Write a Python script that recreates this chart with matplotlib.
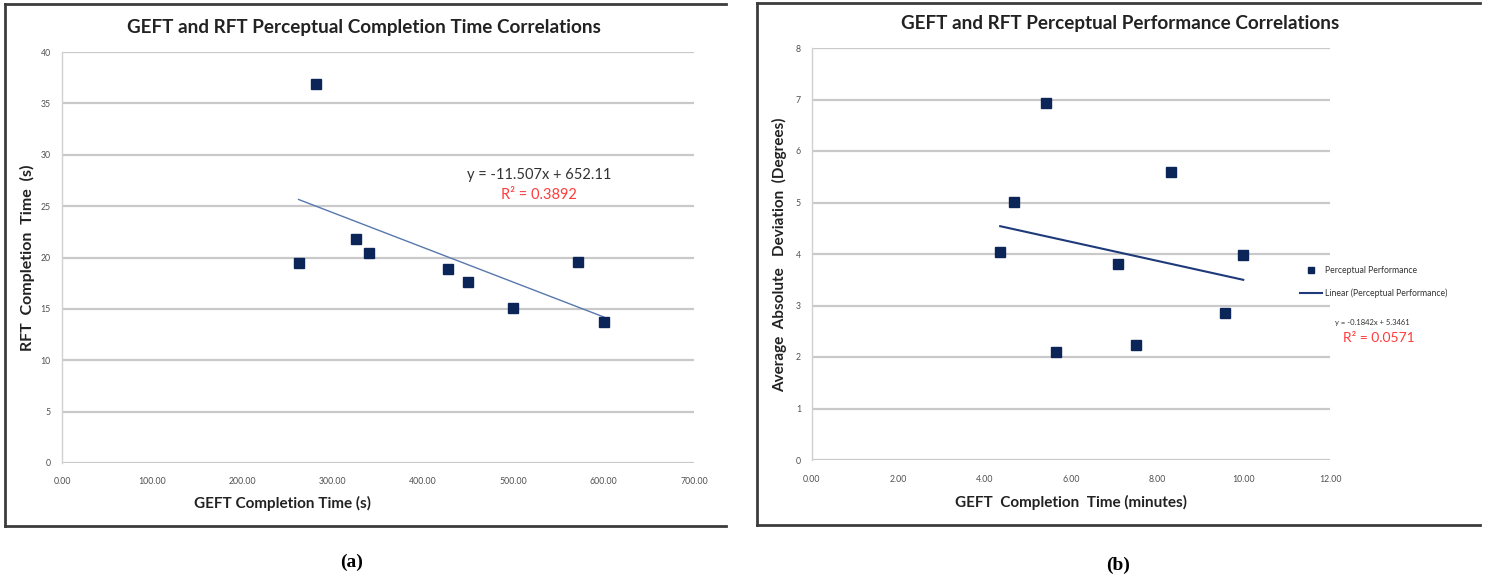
import numpy as np
import matplotlib
matplotlib.use("Agg")
import matplotlib.pyplot as plt
from matplotlib.lines import Line2D

# ---------------- data ----------------
gef_time_s = [262, 281, 326, 340, 427, 450, 500, 571, 600]
rft_time_s = [19.5, 36.9, 21.8, 20.4, 18.9, 17.6, 15.1, 19.6, 13.7]

gef_time_min = [4.36, 4.67, 5.43, 5.66, 7.10, 7.51, 8.32, 9.56, 9.99]
abs_dev_deg = [4.04, 5.01, 6.93, 2.10, 3.81, 2.23, 5.59, 2.85, 3.98]

left_xticks = [0, 100, 200, 300, 400, 500, 600, 700]
left_yticks = [0, 5, 10, 15, 20, 25, 30, 35, 40]
right_xticks = [0, 2, 4, 6, 8, 10, 12]
right_yticks = [0, 1, 2, 3, 4, 5, 6, 7, 8]

eq_left = "y = -11.507x + 652.11"
r2_left = "R² = 0.3892"
eq_right = "y = -0.1842x + 5.3461"
r2_right = "R² = 0.0571"

# ---------------- style ----------------
W, H = 1486, 582
FONT = ["Lato", "DejaVu Sans"]
plt.rcParams["font.family"] = FONT
NAVY = "#0c2558"
GRID = "#c9c9c9"
TICKC = "#505050"
LABC = "#222222"

fig = plt.figure(figsize=(W / 100, H / 100), dpi=100)


def fx(x):
    return x / W


def fy(y):
    return 1 - y / H


def make_axes(x0, x1, ytop, ybot):
    return fig.add_axes([fx(x0), fy(ybot), fx(x1) - fx(x0), fy(ytop) - fy(ybot)])


def style_axes(ax, xticks, yticks, xfmt, xpad, ypad):
    ax.set_xlim(xticks[0], xticks[-1])
    ax.set_ylim(yticks[0], yticks[-1])
    ax.set_xticks(xticks)
    ax.set_yticks(yticks)
    ax.set_xticklabels([xfmt.format(v) for v in xticks])
    ax.set_yticklabels([str(v) for v in yticks])
    ax.tick_params(length=0, labelsize=6.3, colors=TICKC)
    ax.tick_params(axis="x", pad=xpad)
    ax.tick_params(axis="y", pad=ypad)
    ax.grid(axis="y", color=GRID, linewidth=1.6)
    ax.set_axisbelow(True)
    for s in ["top", "right", "bottom"]:
        ax.spines[s].set_visible(False)
    ax.spines["left"].set_color("#d0d0d0")
    ax.spines["left"].set_linewidth(1.0)


def frame(x0, x1, y0, y1):
    kw = dict(color="#3c3c3c", linewidth=2.0, transform=fig.transFigure)
    fig.add_artist(Line2D([fx(x0), fx(x1)], [fy(y0), fy(y0)], **kw))
    fig.add_artist(Line2D([fx(x0), fx(x1)], [fy(y1), fy(y1)], **kw))
    fig.add_artist(Line2D([fx(x0), fx(x0)], [fy(y0), fy(y1)], **kw))


# ---------------- panel (a) ----------------
frame(5, 726, 4, 526)
axL = make_axes(62, 694, 52, 463)
style_axes(axL, left_xticks, left_yticks, "{:.2f}", 10, 8)
axL.plot(gef_time_s, rft_time_s, "s", color=NAVY, markersize=7.5, zorder=3)
xa = np.array(gef_time_s, dtype=float)
ya = np.array(rft_time_s, dtype=float)
ka, ba = np.polyfit(xa, ya, 1)
xl = np.array([xa.min(), xa.max()])
axL.plot(xl, ka * xl + ba, color="#5878ad", linewidth=1.0, zorder=2)

fig.text(fx(364), fy(27), "GEFT and RFT Perceptual Completion Time Correlations",
         ha="center", va="center", fontsize=13.6, fontweight="bold", color=LABC)
fig.text(fx(283), fy(503), "GEFT Completion Time (s)", ha="center", va="center",
         fontsize=11, fontweight="bold", color=LABC)
fig.text(fx(27), fy(258), "RFT  Completion  Time  (s)", ha="center", va="center",
         rotation=90, fontsize=11.5, fontweight="bold", color=LABC)
fig.text(fx(539), fy(175), eq_left, ha="center", va="center", fontsize=10.5, color="#333333")
fig.text(fx(539), fy(195), r2_left, ha="center", va="center", fontsize=10.5, color="#ff3b3b")
fig.text(fx(352), fy(562), "(a)", ha="center", va="center", fontsize=14,
         fontweight="bold", family=["Liberation Serif", "DejaVu Serif"])

# ---------------- panel (b) ----------------
frame(757, 1480, 3, 525)
axR = make_axes(812, 1330, 48, 460)
style_axes(axR, right_xticks, right_yticks, "{:.2f}", 11, 8)
hp, = axR.plot(gef_time_min, abs_dev_deg, "s", color=NAVY, markersize=7.5, zorder=3,
               label="Perceptual Performance")
xb = np.array(gef_time_min, dtype=float)
yb = np.array(abs_dev_deg, dtype=float)
kb, bb = np.polyfit(xb, yb, 1)
xr = np.array([xb.min(), xb.max()])
hl, = axR.plot(xr, kb * xr + bb, color="#1e3a7a", linewidth=1.5, zorder=2,
               label="Linear (Perceptual Performance)")

fig.text(fx(1120), fy(24), "GEFT and RFT Perceptual Performance Correlations",
         ha="center", va="center", fontsize=13.6, fontweight="bold", color=LABC)
fig.text(fx(1071), fy(502), "GEFT  Completion  Time (minutes)", ha="center", va="center",
         fontsize=11, fontweight="bold", color=LABC)
fig.text(fx(780), fy(255), "Average  Absolute   Deviation  (Degrees)", ha="center",
         va="center", rotation=90, fontsize=11, fontweight="bold", color=LABC)
fig.text(fx(1335), fy(322), eq_right, ha="left", va="center", fontsize=5.5, color="#333333")
fig.text(fx(1343), fy(338), r2_right, ha="left", va="center", fontsize=10, color="#ff3b3b")
fig.text(fx(1118), fy(565), "(b)", ha="center", va="center", fontsize=14,
         fontweight="bold", family=["Liberation Serif", "DejaVu Serif"])

leg = fig.legend([hp, hl], [hp.get_label(), hl.get_label()], loc="center left",
                 bbox_to_anchor=(fx(1300), fy(282)), frameon=False, fontsize=6.2,
                 handlelength=2.6, labelspacing=1.5, handletextpad=0.3,
                 borderaxespad=0, borderpad=0, markerscale=0.6)
for t in leg.get_texts():
    t.set_color("#333333")

fig.savefig("out.png", dpi=100)
